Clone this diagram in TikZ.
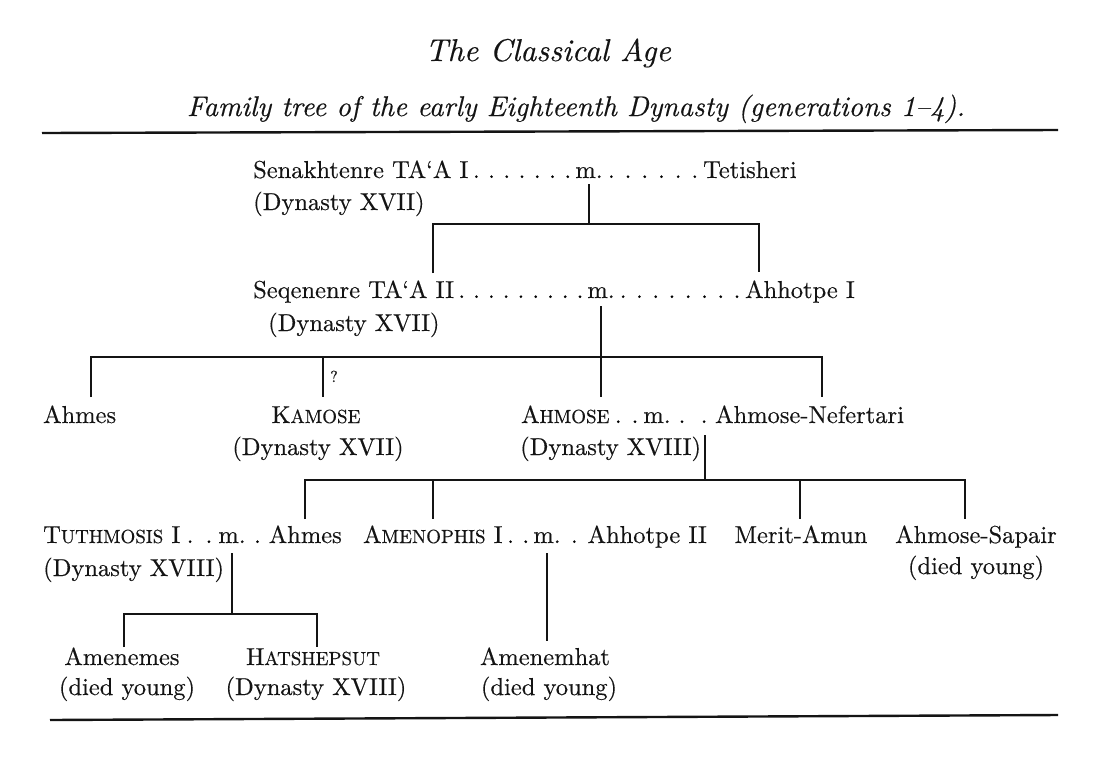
\documentclass[tikz,border=0pt]{standalone}
\usepackage{fontspec}
\setmainfont{lmroman10-regular.otf}[ItalicFont=lmroman10-italic.otf, BoldFont=lmroman10-bold.otf, FakeBold=0.35]
\usetikzlibrary{calc}
\newcommand\fs{\fontsize{24.5}{28}\selectfont}
\newcommand\smc[2]{#1{\fontsize{19}{20}\selectfont #2}}
\newcount\dotcnt
\newcommand\dotrow[4]{%
  \path let \p1=(#1.base east), \p2=(#2.base west) in
    node[inner sep=0pt, anchor=base west, font=\fs] (#4) at (\p1)
    {\dotcnt=#3\relax\dimen0=\dimexpr(\x2-\x1)/#3\relax
     \loop\ifnum\dotcnt>0 \hbox to \dimen0{\hss.\hss}\advance\dotcnt-1 \repeat};}
\tikzset{
  txt/.style={inner sep=0pt, font=\fs, text=black!92},
  wl/.style={txt, anchor=base west},
  wr/.style={txt, anchor=base east},
  ctr/.style={txt, anchor=base},
  conn/.style={line width=1.6pt, draw=black!92, line join=miter},
  rulel/.style={line width=2.4pt, draw=black!92}
}
\begin{document}
\begin{tikzpicture}[x=1pt,y=-1pt]
\useasboundingbox (0,0) rectangle (1106,756);
\fill[white] (0,0) rectangle (1106,756);

% titles
\node[ctr, font=\fontsize{31.5}{34}\selectfont\itshape] (title) at (548,61) {The Classical Age};
\node[ctr, font=\fontsize{28.5}{30}\selectfont\itshape] (sub) at (576,116) {Family tree of the early Eighteenth Dynasty (generations 1--4).};
\draw[rulel] (42,133) -- (1058,130);
\draw[rulel] (50,720) -- (1058,715);

% generation 1
\node[wl] (sen) at (253,178) {Senakhtenre TA‘A I};
\node[ctr] (m1) at (589,178) {m.};
\node[wl] (tet) at (703,178) {Tetisheri};
\node[wl] (sen2) at (253,210) {(Dynasty XVII)};
\dotrow{sen}{m1}{7}{d1a}
\dotrow{m1}{tet}{6}{d1b}
\coordinate (b1L) at (433,224);
\coordinate (b1R) at (759,224);
\draw[conn] ([yshift=-6pt]m1.south) -- (m1.south |- b1L);
\draw[conn] (b1L |- 0,273) -- (b1L) -- (b1R) -- (b1R |- 0,272);

% generation 2
\node[wl] (seq) at (253,298) {Seqenenre TA‘A II};
\node[ctr] (m2) at (601,298) {m.};
\node[wl] (ahh1) at (745,298) {Ahhotpe I};
\node[wl] (seq2) at (268,331) {(Dynasty XVII)};
\dotrow{seq}{m2}{9}{d2a}
\dotrow{m2}{ahh1}{8}{d2b}
\coordinate (b2L) at (91,357);
\coordinate (b2R) at (822,357);
\coordinate (b2K) at (323,357);
\draw[conn] ([yshift=-8pt]m2.south) -- (m2.south |- 0,397);
\draw[conn] (b2L |- 0,397) -- (b2L) -- (b2R) -- (b2R |- 0,397);
\draw[conn] (b2K) -- (b2K |- 0,397);
\node[txt, font=\fontsize{16}{18}\selectfont, anchor=base] (q) at (334,382) {?};

% generation 3
\node[wl] (ahmes1) at (43,423) {Ahmes};
\node[ctr] (kam) at (316,423) {\smc{K}{AMOSE}};
\node[ctr] (kam2) at (318,455) {(Dynasty XVII)};
\node[wl] (ahm) at (521,423) {\smc{A}{HMOSE}};
\node[ctr] (m3) at (657,423) {m.};
\node[wl] (nef) at (715,423) {Ahmose-Nefertari};
\node[wl] (ahm2) at (520,455) {(Dynasty XVIII)};
\dotrow{ahm}{m3}{2}{d3a}
\dotrow{m3}{nef}{2}{d3b}
\coordinate (j3) at (705,435);
\coordinate (b3) at (705,480);
\draw[conn] (j3) -- (b3);
\coordinate (b3L) at (305,480);
\coordinate (b3A) at (433,480);
\coordinate (b3M) at (800,480);
\coordinate (b3R) at (965,480);
\draw[conn] (b3L |- 0,519) -- (b3L) -- (b3R) -- (b3R |- 0,519);
\draw[conn] (b3A) -- (b3A |- 0,519);
\draw[conn] (b3M) -- (b3M |- 0,519);

% generation 4
\node[wl] (tut) at (43,543) {\smc{T}{UTHMOSIS} I};
\node[ctr] (m4) at (232,543) {m.};
\node[wr] (ahmes2) at (342,543) {Ahmes};
\node[wl] (amen) at (363,543) {\smc{A}{MENOPHIS} I};
\node[ctr] (m5) at (547,543) {m.};
\node[wr] (ahh2) at (707,543) {Ahhotpe II};
\node[ctr] (mer) at (801,543) {Merit-Amun};
\node[ctr] (sap) at (976,543) {Ahmose-Sapair};
\node[wl] (tut2) at (43,576) {(Dynasty XVIII)};
\node[ctr] (sap2) at (976,574) {(died young)};
\dotrow{tut}{m4}{2}{d4a}
\dotrow{m4}{ahmes2}{1}{d4b}
\dotrow{amen}{m5}{2}{d4c}
\dotrow{m5}{ahh2}{1}{d4d}
\coordinate (b4L) at (124,614);
\coordinate (b4R) at (317,614);
\draw[conn] ([yshift=-10pt]m4.south) -- (m4.south |- b4L);
\draw[conn] (b4L |- 0,647) -- (b4L) -- (b4R) -- (b4R |- 0,647);
\draw[conn] ([yshift=-10pt]m5.south) -- (m5.south |- 0,641);

% generation 5
\node[ctr] (ams) at (122,665) {Amenemes};
\node[ctr] (ams2) at (127,695) {(died young)};
\node[ctr] (hat) at (313,665) {\smc{H}{ATSHEPSUT}};
\node[ctr] (hat2) at (316,695) {(Dynasty XVIII)};
\node[ctr] (amh) at (545,665) {Amenemhat};
\node[ctr] (amh2) at (549,695) {(died young)};
\end{tikzpicture}
\end{document}
